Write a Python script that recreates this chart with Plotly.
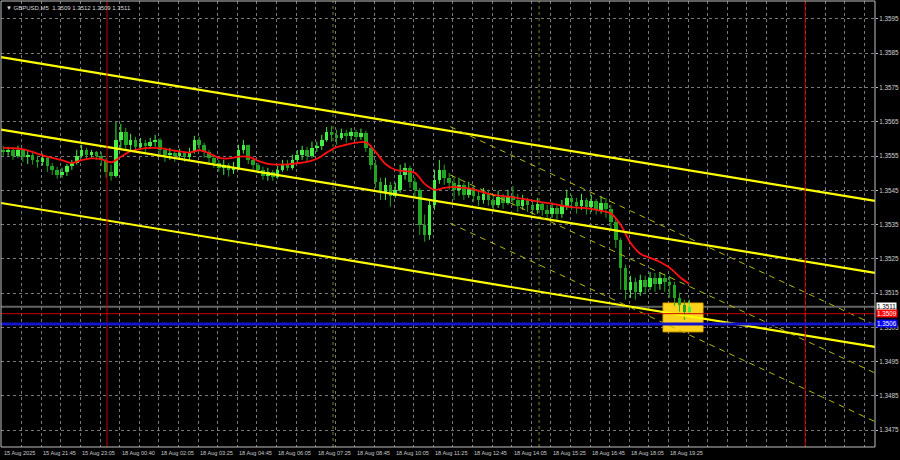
import plotly.graph_objects as go

# ---------------- data ----------------
title_text = "\u25bc GBPUSD,M5  1.3509 1.3512 1.3509 1.3511"

first_open = 1.35568
closes = [1.35562, 1.35568, 1.35551, 1.35568, 1.35548, 1.35554, 1.35539, 1.35533, 1.35545, 1.35522,
          1.35510, 1.35495, 1.35504, 1.35522, 1.35530, 1.35551, 1.35568, 1.35554, 1.35562, 1.35551,
          1.35539, 1.35504, 1.35492, 1.35597, 1.35621, 1.35583, 1.35597, 1.35577, 1.35589, 1.35580,
          1.35592, 1.35597, 1.35568, 1.35554, 1.35560, 1.35551, 1.35560, 1.35548, 1.35562, 1.35597,
          1.35583, 1.35562, 1.35545, 1.35530, 1.35516, 1.35525, 1.35510, 1.35516, 1.35568, 1.35583,
          1.35539, 1.35525, 1.35510, 1.35492, 1.35504, 1.35490, 1.35510, 1.35525, 1.35516, 1.35539,
          1.35554, 1.35568, 1.35551, 1.35574, 1.35580, 1.35597, 1.35621, 1.35612, 1.35603, 1.35618,
          1.35609, 1.35621, 1.35606, 1.35618, 1.35574, 1.35525, 1.35475, 1.35446, 1.35466, 1.35434,
          1.35452, 1.35495, 1.35516, 1.35475, 1.35452, 1.35349, 1.35320, 1.35408, 1.35481, 1.35510,
          1.35487, 1.35472, 1.35452, 1.35466, 1.35437, 1.35457, 1.35434, 1.35422, 1.35440, 1.35422,
          1.35408, 1.35431, 1.35414, 1.35434, 1.35422, 1.35405, 1.35422, 1.35408, 1.35393, 1.35411,
          1.35393, 1.35382, 1.35399, 1.35382, 1.35405, 1.35428, 1.35417, 1.35405, 1.35422, 1.35402,
          1.35419, 1.35393, 1.35414, 1.35396, 1.35358, 1.35306, 1.35224, 1.35160, 1.35183, 1.35154,
          1.35189, 1.35169, 1.35195, 1.35177, 1.35195, 1.35183, 1.35174, 1.35136, 1.35116, 1.35096,
          1.35110]
highs = [1.35580, 1.35577, 1.35571, 1.35580, 1.35568, 1.35565, 1.35560, 1.35551, 1.35557, 1.35548,
         1.35530, 1.35519, 1.35516, 1.35527, 1.35539, 1.35568, 1.35583, 1.35574, 1.35568, 1.35565,
         1.35562, 1.35545, 1.35525, 1.35650, 1.35644, 1.35632, 1.35615, 1.35606, 1.35603, 1.35597,
         1.35603, 1.35612, 1.35603, 1.35574, 1.35574, 1.35568, 1.35571, 1.35562, 1.35574, 1.35609,
         1.35606, 1.35589, 1.35568, 1.35554, 1.35539, 1.35539, 1.35530, 1.35533, 1.35583, 1.35597,
         1.35583, 1.35545, 1.35530, 1.35519, 1.35516, 1.35510, 1.35522, 1.35539, 1.35539, 1.35554,
         1.35568, 1.35580, 1.35577, 1.35592, 1.35592, 1.35612, 1.35635, 1.35638, 1.35627, 1.35630,
         1.35627, 1.35632, 1.35627, 1.35630, 1.35624, 1.35583, 1.35539, 1.35487, 1.35487, 1.35475,
         1.35472, 1.35525, 1.35530, 1.35522, 1.35487, 1.35457, 1.35379, 1.35422, 1.35510, 1.35539,
         1.35525, 1.35501, 1.35487, 1.35487, 1.35472, 1.35475, 1.35463, 1.35452, 1.35457, 1.35452,
         1.35437, 1.35449, 1.35440, 1.35452, 1.35463, 1.35440, 1.35437, 1.35428, 1.35422, 1.35428,
         1.35414, 1.35408, 1.35414, 1.35405, 1.35422, 1.35452, 1.35437, 1.35428, 1.35440, 1.35428,
         1.35437, 1.35425, 1.35434, 1.35428, 1.35408, 1.35370, 1.35312, 1.35233, 1.35201, 1.35195,
         1.35204, 1.35201, 1.35212, 1.35209, 1.35212, 1.35207, 1.35201, 1.35183, 1.35151, 1.35131,
         1.35131]
lows = [1.35551, 1.35551, 1.35539, 1.35545, 1.35533, 1.35527, 1.35525, 1.35516, 1.35522, 1.35504,
        1.35495, 1.35484, 1.35487, 1.35492, 1.35510, 1.35525, 1.35545, 1.35539, 1.35545, 1.35539,
        1.35522, 1.35487, 1.35478, 1.35487, 1.35574, 1.35568, 1.35568, 1.35562, 1.35568, 1.35562,
        1.35571, 1.35577, 1.35554, 1.35533, 1.35539, 1.35533, 1.35539, 1.35533, 1.35539, 1.35557,
        1.35568, 1.35545, 1.35530, 1.35516, 1.35504, 1.35495, 1.35490, 1.35498, 1.35510, 1.35557,
        1.35527, 1.35510, 1.35498, 1.35481, 1.35478, 1.35478, 1.35484, 1.35504, 1.35507, 1.35510,
        1.35530, 1.35539, 1.35533, 1.35545, 1.35562, 1.35568, 1.35592, 1.35592, 1.35583, 1.35597,
        1.35589, 1.35597, 1.35595, 1.35597, 1.35562, 1.35510, 1.35457, 1.35422, 1.35422, 1.35402,
        1.35428, 1.35443, 1.35481, 1.35457, 1.35428, 1.35320, 1.35300, 1.35306, 1.35393, 1.35469,
        1.35466, 1.35452, 1.35422, 1.35434, 1.35422, 1.35428, 1.35417, 1.35405, 1.35411, 1.35405,
        1.35393, 1.35399, 1.35396, 1.35408, 1.35405, 1.35387, 1.35393, 1.35387, 1.35379, 1.35382,
        1.35376, 1.35364, 1.35370, 1.35358, 1.35370, 1.35393, 1.35393, 1.35382, 1.35393, 1.35379,
        1.35387, 1.35379, 1.35382, 1.35370, 1.35335, 1.35282, 1.35160, 1.35131, 1.35136, 1.35131,
        1.35142, 1.35148, 1.35160, 1.35154, 1.35160, 1.35154, 1.35136, 1.35113, 1.35096, 1.35072,
        1.35090]

# moving average (red line), one value every two candles
ma_values = [1.35574, 1.35573, 1.35570, 1.35562, 1.35552, 1.35545, 1.35538, 1.35530, 1.35538, 1.35543,
             1.35541, 1.35532, 1.35548, 1.35564, 1.35571, 1.35574, 1.35573, 1.35568, 1.35564, 1.35560,
             1.35567, 1.35558, 1.35545, 1.35543, 1.35548, 1.35548, 1.35536, 1.35527, 1.35525, 1.35526,
             1.35529, 1.35533, 1.35542, 1.35560, 1.35576, 1.35583, 1.35589, 1.35590, 1.35562, 1.35527,
             1.35510, 1.35506, 1.35501, 1.35469, 1.35452, 1.35457, 1.35460, 1.35457, 1.35453, 1.35444,
             1.35437, 1.35433, 1.35430, 1.35425, 1.35420, 1.35415, 1.35411, 1.35405, 1.35401, 1.35399,
             1.35396, 1.35390, 1.35382, 1.35349, 1.35297, 1.35265, 1.35253, 1.35241, 1.35224, 1.35198,
             1.35177]

# time axis labels (one every 16 M5 bars)
time_labels = ["15 Aug 2025", "15 Aug 21:45", "15 Aug 23:05", "18 Aug 00:40", "18 Aug 02:05",
               "18 Aug 03:25", "18 Aug 04:45", "18 Aug 06:05", "18 Aug 07:25", "18 Aug 08:45",
               "18 Aug 10:05", "18 Aug 11:25", "18 Aug 12:45", "18 Aug 14:05", "18 Aug 15:25",
               "18 Aug 16:45", "18 Aug 18:05", "18 Aug 19:25"]
price_ticks = [1.3475, 1.3485, 1.3495, 1.3505, 1.3515, 1.3525, 1.3535, 1.3545,
               1.3555, 1.3565, 1.3575, 1.3585, 1.3595]

# drawn objects (bar index, price)
channel_x = [-0.41, 356.3]
channel_upper = [1.35839, 1.35419]
channel_middle = [1.35627, 1.35209]
channel_lower = [1.35413, 1.34993]
stdev_x = [182.9, 356.3]
stdev_upper = [1.35636, 1.35057]
stdev_middle = [1.35495, 1.34917]
stdev_lower = [1.35354, 1.34775]
day_separators = [42.86, 327.8]
green_vlines = [135.1, 219.2]
box_x = [269.8, 286.1]
box_price = [1.35037, 1.35121]
bid_price = 1.3511
red_level = 1.3509
blue_level = 1.3506

# ---------------- figure ----------------
BULL = "#45ee45"
BEAR = "#22a522"
FONT = "Liberation Sans"
GRID = "#787878"

opens = [first_open] + closes[:-1]
bar_x = [2 * i + 0.5 for i in range(len(closes))]
ma_x = [4 * j + 0.5 for j in range(len(ma_values))]

body_base, body_h, body_col = [], [], []
wick = {True: ([], []), False: ([], [])}
for x, o, h, l, c in zip(bar_x, opens, highs, lows, closes):
    up = c >= o
    body_base.append(min(o, c))
    body_h.append(max(abs(c - o), 0.000012))
    body_col.append(BULL if up else BEAR)
    wx, wy = wick[up]
    wx += [x, x, None]
    wy += [l, h, None]

fig = go.Figure()
for up, col in ((True, BULL), (False, BEAR)):
    fig.add_trace(go.Scatter(x=wick[up][0], y=wick[up][1], mode="lines",
                             line=dict(color=col, width=1), hoverinfo="skip"))
fig.add_trace(go.Bar(x=bar_x, y=body_h, base=body_base, width=1.45,
                     marker=dict(color=body_col, line=dict(width=0)), hoverinfo="skip"))
fig.add_trace(go.Scatter(x=ma_x, y=ma_values, mode="lines",
                         line=dict(color="#ff1010", width=1.8, shape="spline"), hoverinfo="skip"))

for ys in (channel_upper, channel_middle, channel_lower):
    fig.add_trace(go.Scatter(x=channel_x, y=ys, mode="lines",
                             line=dict(color="#ffff00", width=2.2), hoverinfo="skip"))
for ys in (stdev_upper, stdev_middle, stdev_lower):
    fig.add_trace(go.Scatter(x=stdev_x, y=ys, mode="lines",
                             line=dict(color="#b8b800", width=1, dash="6px,5px"), hoverinfo="skip"))

shapes = []
shapes.append(dict(type="rect", xref="x", yref="y", x0=box_x[0], x1=box_x[1],
                   y0=box_price[0], y1=box_price[1], fillcolor="#ffd21e",
                   line=dict(color="#f0b400", width=1), layer="between"))
for xv in day_separators:
    shapes.append(dict(type="line", xref="x", yref="paper", x0=xv, x1=xv, y0=0, y1=1,
                       line=dict(color="#c80000", width=1), layer="above"))
for xv in green_vlines:
    shapes.append(dict(type="line", xref="x", yref="paper", x0=xv, x1=xv, y0=0, y1=1,
                       line=dict(color="#6b8e23", width=1, dash="3px,3px"), layer="between"))
shapes.append(dict(type="line", xref="paper", yref="y", x0=0, x1=1, y0=bid_price, y1=bid_price,
                   line=dict(color="#646464", width=2), layer="between"))
shapes.append(dict(type="line", xref="paper", yref="y", x0=0, x1=1, y0=red_level, y1=red_level,
                   line=dict(color="#c80000", width=1), layer="above"))
shapes.append(dict(type="line", xref="paper", yref="y", x0=0, x1=1, y0=blue_level, y1=blue_level,
                   line=dict(color="#1414c8", width=3), layer="above"))
shapes.append(dict(type="rect", xref="paper", yref="paper", x0=0, x1=1, y0=0, y1=1,
                   line=dict(color="#c0c0c0", width=1), layer="above"))

annotations = []
annotations.append(dict(xref="paper", yref="paper", x=0, y=1, xanchor="left", yanchor="top",
                        xshift=3, yshift=-2, showarrow=False, text=title_text,
                        font=dict(family=FONT, size=6, color="#d8d8d8")))
for k, lab in enumerate(time_labels):
    annotations.append(dict(xref="x", yref="paper", x=16 * k, y=0, xanchor="left", yanchor="top",
                            yshift=-1, showarrow=False, text=lab,
                            font=dict(family=FONT, size=5.6, color="#c8c8c8")))
for val, bg, fg in ((bid_price, "#ffffff", "#000000"), (red_level, "#ff0000", "#ffffff"),
                    (blue_level, "#0000ff", "#ffffff")):
    annotations.append(dict(xref="paper", yref="y", x=1, y=val, xanchor="left", yanchor="middle",
                            xshift=1, showarrow=False, text="%.4f" % val, bgcolor=bg,
                            borderpad=0, font=dict(family=FONT, size=6.3, color=fg)))

fig.update_layout(
    width=900, height=460, margin=dict(l=1, r=25, t=1, b=13, autoexpand=False),
    paper_bgcolor="#000000", plot_bgcolor="#000000", showlegend=False,
    shapes=shapes, annotations=annotations, bargap=0,
    xaxis=dict(range=[-0.41, 356.3], tickvals=list(range(0, 357, 8)), showticklabels=False,
               showgrid=True, gridcolor=GRID, griddash="3px,3px", gridwidth=1,
               zeroline=False, fixedrange=True),
    yaxis=dict(range=[1.34701, 1.360025], side="right", tickvals=price_ticks,
               ticktext=["%.4f" % v for v in price_ticks], showgrid=True, gridcolor=GRID,
               griddash="3px,3px", gridwidth=1, zeroline=False, ticks="outside", ticklen=2,
               ticklabelstandoff=0,
               tickcolor="#c0c0c0", tickfont=dict(family=FONT, size=6.3, color="#d0d0d0")),
)

fig.write_html("out.html", config={"displayModeBar": False},
               post_script="document.body.style.margin='0px';document.body.style.background='#000';")
